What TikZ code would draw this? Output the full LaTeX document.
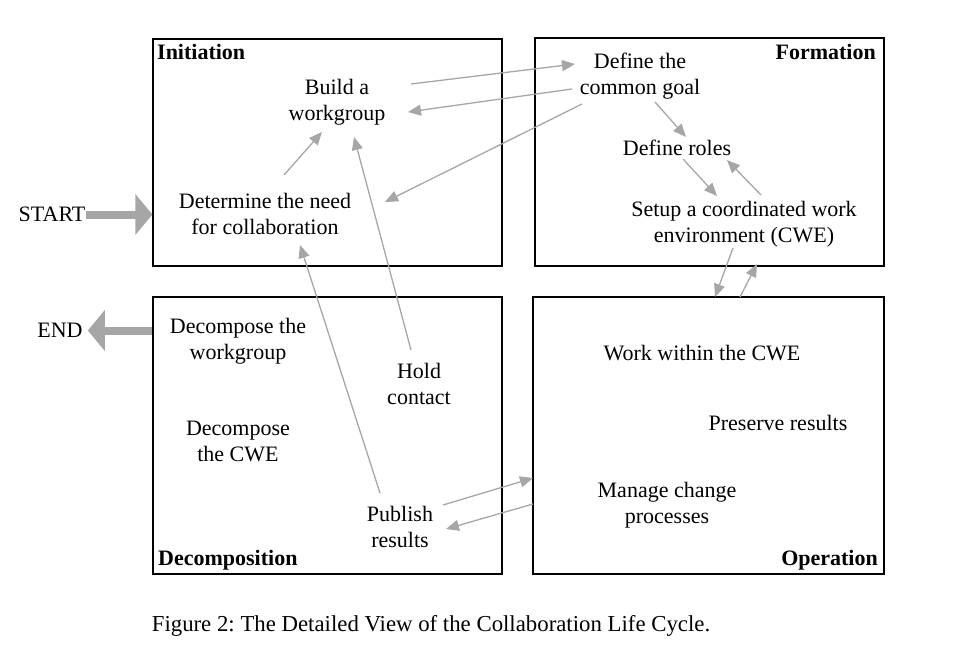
\documentclass[tikz,border=0pt]{standalone}
\usepackage{fontspec}
\setmainfont{Liberation Serif}
\usetikzlibrary{arrows.meta}
\definecolor{arrowgray}{RGB}{166,166,166}
\tikzset{
  txt/.style={align=center, font=\fontsize{22}{26}\selectfont, inner sep=1pt, yshift=-1.5pt},
  phase/.style={font=\fontsize{22}{26}\selectfont\bfseries, inner sep=1pt},
  stage/.style={draw, line width=1.2pt, inner sep=0pt},
  flow/.style={draw=arrowgray, line width=1.3pt, -{Triangle[length=13pt,width=11pt]}},
  bigflow/.style={draw=arrowgray, line width=8pt, -{Triangle[length=17pt,width=40pt]}}
}
\begin{document}
\begin{tikzpicture}[x=1pt,y=-1pt]
\useasboundingbox (0,0) rectangle (977,659);
% the four stages
\node[stage, minimum width=349pt, minimum height=227pt] (init) at (327.5,152.5) {};
\node[stage, minimum width=349pt, minimum height=228pt] (form) at (709.5,152) {};
\node[stage, minimum width=349pt, minimum height=277pt] (decomp) at (327.5,435.5) {};
\node[stage, minimum width=351pt, minimum height=277pt] (oper) at (708.5,435.5) {};
\node[phase, anchor=west] (initlbl) at (156,52) {Initiation};
\node[phase, anchor=east] (formlbl) at (877,52) {Formation};
\node[phase, anchor=west] (decomplbl) at (157,560) {Decomposition};
\node[phase, anchor=east] (operlbl) at (879,560) {Operation};
% activities
\node[txt] (build) at (337,101) {Build a\\workgroup};
\node[txt] (need) at (265,212) {Determine the need\\for collaboration};
\node[txt] (goal) at (640,75) {Define the\\common goal};
\node[txt] (roles) at (677,146) {Define roles};
\node[txt] (setup) at (744,223) {Setup a coordinated work\\environment (CWE)};
\node[txt] (decgroup) at (238,340) {Decompose the\\workgroup};
\node[txt] (deccwe) at (238,440) {Decompose\\the CWE};
\node[txt] (hold) at (419,382) {Hold\\contact};
\node[txt] (publish) at (400,525) {Publish\\results};
\node[txt] (work) at (702,352) {Work within the CWE};
\node[txt] (preserve) at (778,421) {Preserve results};
\node[txt] (manage) at (667,504) {Manage change\\processes};
\node[txt] (start) at (52,213) {START};
\node[txt] (endlbl) at (60,329) {END};
\node[txt, font=\fontsize{22.8}{26}\selectfont\frenchspacing] (caption) at (431,624) {Figure 2: The Detailed View of the Collaboration Life Cycle.};
% start and end
\draw[bigflow] (start.east) -- (start.east -| init.west);
\draw[bigflow] (decomp.west |- endlbl) -- ([xshift=4pt]endlbl.east);
% transitions
\coordinate (bg1) at (411,84);  \coordinate (bg2) at (575,64);
\coordinate (gb1) at (572,89);  \coordinate (gb2) at (408,112);
\coordinate (gn1) at (582,104); \coordinate (gn2) at (385,202);
\coordinate (nb1) at (284,175); \coordinate (nb2) at (322,132);
\coordinate (hb1) at (411,350); \coordinate (hb2) at (354,137);
\coordinate (pn1) at (380,493); \coordinate (pn2) at (300,245);
\coordinate (gr1) at (655,102); \coordinate (gr2) at (686,137);
\coordinate (rs1) at (683,159); \coordinate (rs2) at (717,196);
\coordinate (sr1) at (761,195); \coordinate (sr2) at (727,160);
\coordinate (so1) at (733,248); \coordinate (so2) at (715,297);
\coordinate (os1) at (740,297); \coordinate (os2) at (757,264);
\coordinate (po1) at (443,505); \coordinate (po2) at (533,478);
\coordinate (op1) at (533,504); \coordinate (op2) at (446,529);
\draw[flow] (bg1) -- (bg2);
\draw[flow] (gb1) -- (gb2);
\draw[flow] (gn1) -- (gn2);
\draw[flow] (nb1) -- (nb2);
\draw[flow] (hb1) -- (hb2);
\draw[flow] (pn1) -- (pn2);
\draw[flow] (gr1) -- (gr2);
\draw[flow] (rs1) -- (rs2);
\draw[flow] (sr1) -- (sr2);
\draw[flow] (so1) -- (so2);
\draw[flow] (os1) -- (os2);
\draw[flow] (po1) -- (po2);
\draw[flow] (op1) -- (op2);
\end{tikzpicture}
\end{document}
